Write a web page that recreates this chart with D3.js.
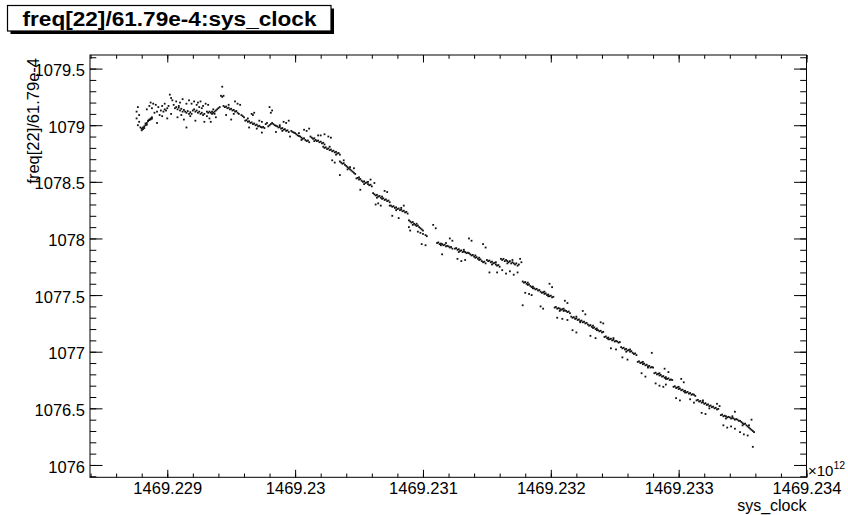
<!DOCTYPE html>
<html>
<head>
<meta charset="utf-8">
<script src="https://cdn.jsdelivr.net/npm/d3@7"></script>
<style>
  html, body { margin: 0; padding: 0; background: #fff; }
  svg { display: block; font-family: "Liberation Sans", Arial, Helvetica, sans-serif; }
</style>
</head>
<body>
<div id="chart"></div>
<script>
// sys_clock (x 1e12) and freq[22]/61.79e-4
const samplesEarly = [
  [1469.22876,1079.12],[1469.22876,1079.06],[1469.22877,1079.00],[1469.22877,1079.16],[1469.22878,1079.03],[1469.22879,1078.98],[1469.22878,1079.09],
  [1469.22880,1078.97],[1469.22880,1078.955],[1469.22881,1078.98],[1469.22881,1078.965],[1469.22882,1078.99],[1469.22882,1078.975],[1469.22883,1079.00],[1469.22883,1079.015],[1469.22884,1079.02],[1469.22884,1079.005],[1469.22885,1079.035],[1469.22885,1079.04],[1469.22886,1079.045],[1469.22886,1079.05],[1469.22887,1079.06],[1469.22887,1079.052],[1469.22888,1079.07],[1469.22888,1079.058],
  [1469.22884,1079.14],[1469.22886,1079.17],[1469.22887,1079.20],[1469.22888,1079.15],[1469.22889,1079.19],[1469.22890,1079.11],[1469.22891,1079.18],[1469.22892,1079.12],[1469.22893,1079.16],[1469.22894,1079.09],[1469.22895,1079.13],[1469.22896,1079.08],[1469.22897,1079.12],[1469.22898,1079.14],[1469.22899,1079.13],[1469.22900,1079.15],[1469.22901,1079.17],[1469.22902,1079.27],[1469.22903,1079.24],[1469.22904,1079.22],[1469.22900,1079.06],[1469.22892,1079.02],[1469.22896,1079.17],[1469.22898,1079.19],
  [1469.22905,1079.18],[1469.22906,1079.15],[1469.22907,1079.16],[1469.22908,1079.14],[1469.22909,1079.155],[1469.22910,1079.13],[1469.22911,1079.145],[1469.22912,1079.12],[1469.22913,1079.135],[1469.22914,1079.12],[1469.22915,1079.11],[1469.22916,1079.125],[1469.22917,1079.10],[1469.22918,1079.115],[1469.22919,1079.10],
  [1469.22907,1079.21],[1469.22910,1079.20],[1469.22912,1079.23],[1469.22915,1079.19],[1469.22917,1079.22],[1469.22919,1079.19],[1469.22921,1079.21],[1469.22923,1079.18],
  [1469.22908,1079.07],[1469.22913,1079.05],[1469.22918,1079.08],[1469.22922,1079.04],[1469.22915,1078.98],
  [1469.22920,1079.13],[1469.22921,1079.14],[1469.22922,1079.12],[1469.22923,1079.13],[1469.22924,1079.11],[1469.22925,1079.12],[1469.22926,1079.10],[1469.22927,1079.11],[1469.22928,1079.09],[1469.22929,1079.10],[1469.22924,1079.20],[1469.22926,1079.21],[1469.22928,1079.17],[1469.22930,1079.19],[1469.22927,1079.15],[1469.22931,1079.08],[1469.22929,1079.03],[1469.22933,1079.06],
  [1469.22931,1079.12],[1469.22932,1079.11],[1469.22933,1079.12],[1469.22934,1079.11],[1469.22935,1079.12],[1469.22936,1079.11],[1469.22937,1079.12],[1469.22938,1079.13],[1469.22939,1079.14],[1469.22940,1079.15],[1469.22941,1079.16],[1469.22935,1079.10],[1469.22937,1079.10],[1469.22934,1079.03],[1469.22938,1079.07],[1469.22932,1079.18],
  [1469.22943,1079.34],[1469.22942,1079.26],[1469.22943,1079.25],[1469.22944,1079.26],
  [1469.22944,1079.17],[1469.22945,1079.16],[1469.22946,1079.165],[1469.22947,1079.15],[1469.22948,1079.155],[1469.22949,1079.14],[1469.22950,1079.145],[1469.22951,1079.13],[1469.22952,1079.135],[1469.22953,1079.12],[1469.22954,1079.125],[1469.22955,1079.11],
  [1469.22953,1079.21],[1469.22955,1079.19],[1469.22957,1079.18],[1469.22956,1079.10],[1469.22958,1079.09],[1469.22960,1079.07],[1469.22959,1079.08],[1469.22950,1079.05],[1469.22946,1079.09],
  [1469.22961,1079.04],[1469.22962,1079.045],[1469.22963,1079.03],[1469.22964,1079.035],[1469.22965,1079.02],[1469.22966,1079.025],[1469.22967,1079.01],[1469.22968,1079.015],[1469.22969,1079.00],[1469.22970,1079.005],[1469.22971,1078.99],[1469.22972,1078.995],[1469.22973,1078.985],[1469.22974,1078.98],[1469.22975,1078.985],[1469.22976,1078.975],
  [1469.22966,1079.10],[1469.22968,1079.11],[1469.22967,1079.09],
  [1469.22972,1079.04],[1469.22974,1079.03],[1469.22977,1079.01],[1469.22978,1079.02],[1469.22980,1079.00],[1469.22981,1079.01],
  [1469.22980,1079.16],[1469.22981,1079.11],[1469.22982,1079.13],
  [1469.22982,1079.02],[1469.22983,1079.01],[1469.22984,1079.00],[1469.22985,1078.995],[1469.22986,1078.99],[1469.22987,1078.98],[1469.22988,1078.985],[1469.22989,1078.97],[1469.22990,1078.975],[1469.22991,1078.96],[1469.22992,1078.965],[1469.22993,1078.95],[1469.22994,1078.955],[1469.22995,1078.94],
  [1469.22991,1079.03],[1469.22993,1079.02],[1469.22995,1079.04],
  [1469.22985,1078.94],[1469.22974,1078.935],[1469.22964,1078.98],[1469.22996,1078.90],
  [1469.22997,1078.95],[1469.22998,1078.94],[1469.22999,1078.935],[1469.23000,1078.93],[1469.23001,1078.92],[1469.23002,1078.91],[1469.23003,1078.905],[1469.23004,1078.90],[1469.23005,1078.89],[1469.23006,1078.88],[1469.23007,1078.885],[1469.23008,1078.87],[1469.23009,1078.86],[1469.23010,1078.865],[1469.23011,1078.85],
  [1469.23007,1078.96],[1469.23009,1078.95],[1469.23011,1078.97],
  [1469.23012,1078.90],[1469.23013,1078.89],[1469.23014,1078.88],[1469.23015,1078.885],[1469.23016,1078.87],[1469.23017,1078.86],[1469.23018,1078.865],[1469.23019,1078.85],[1469.23020,1078.855],[1469.23021,1078.84],[1469.23022,1078.845],[1469.23023,1078.83],
  [1469.22903,1079.10],[1469.22909,1079.17],[1469.22911,1079.09],[1469.22925,1079.16],[1469.22936,1079.14],[1469.22948,1079.18],[1469.22952,1079.10],[1469.22963,1079.06],[1469.22970,1078.97],[1469.22979,1078.99],[1469.22988,1079.00],[1469.22990,1078.95],[1469.23003,1078.93],[1469.23005,1078.87],[1469.23015,1078.86],[1469.23018,1078.91]
];

const samplesMid = [
  [1469.23020,1078.91],[1469.23023,1078.92],[1469.23026,1078.90],[1469.23028,1078.89],
  [1469.23022,1078.81],[1469.23023,1078.80],[1469.23024,1078.805],[1469.23025,1078.79],[1469.23026,1078.795],[1469.23027,1078.78],[1469.23028,1078.785],[1469.23029,1078.77],[1469.23030,1078.775],[1469.23031,1078.76],[1469.23032,1078.765],[1469.23033,1078.75],[1469.23034,1078.755],[1469.23035,1078.74],
  [1469.23029,1078.69],[1469.23031,1078.67],[1469.23035,1078.56],
  [1469.23035,1078.68],[1469.23036,1078.67],[1469.23037,1078.66],[1469.23038,1078.665],[1469.23039,1078.65],[1469.23040,1078.64],[1469.23041,1078.63],[1469.23042,1078.62],[1469.23043,1078.61],[1469.23044,1078.60],[1469.23045,1078.59],[1469.23046,1078.58],[1469.23047,1078.57],
  [1469.23043,1078.63],[1469.23046,1078.62],
  [1469.23048,1078.53],[1469.23049,1078.535],[1469.23050,1078.52],[1469.23051,1078.525],[1469.23052,1078.51],[1469.23053,1078.50],[1469.23054,1078.505],[1469.23055,1078.49],[1469.23056,1078.495],[1469.23057,1078.48],[1469.23058,1078.47],[1469.23059,1078.475],[1469.23060,1078.46],
  [1469.23051,1078.43],[1469.23057,1078.50],[1469.23059,1078.52],[1469.23062,1078.49],
  [1469.23061,1078.40],[1469.23062,1078.39],[1469.23063,1078.38],[1469.23064,1078.385],[1469.23065,1078.37],[1469.23066,1078.375],[1469.23067,1078.36],[1469.23068,1078.35],[1469.23069,1078.355],[1469.23070,1078.34],[1469.23071,1078.345],[1469.23072,1078.33],[1469.23073,1078.335],[1469.23074,1078.32],
  [1469.23063,1078.30],[1469.23067,1078.29],[1469.23065,1078.31],[1469.23070,1078.42],[1469.23072,1078.41],
  [1469.23074,1078.29],[1469.23075,1078.29],[1469.23076,1078.28],[1469.23077,1078.285],[1469.23078,1078.27],[1469.23079,1078.275],[1469.23080,1078.26],[1469.23081,1078.265],[1469.23082,1078.25],[1469.23083,1078.255],[1469.23084,1078.24],[1469.23085,1078.245],[1469.23086,1078.23],[1469.23087,1078.235],[1469.23088,1078.22],
  [1469.23076,1078.20],[1469.23081,1078.18],[1469.23085,1078.29],
  [1469.23089,1078.16],[1469.23090,1078.15],[1469.23091,1078.14],[1469.23092,1078.145],[1469.23093,1078.13],[1469.23094,1078.12],[1469.23095,1078.11],[1469.23096,1078.115],[1469.23097,1078.10],[1469.23098,1078.09],[1469.23099,1078.08],[1469.23100,1078.07],
  [1469.23089,1078.10],[1469.23090,1078.07],[1469.23096,1078.06],[1469.23098,1078.05],[1469.23100,1078.04],[1469.23102,1078.03],[1469.23103,1078.02],[1469.23099,1077.95],[1469.23102,1077.94],[1469.23108,1078.12],[1469.23110,1078.09],
  [1469.23111,1077.96],[1469.23112,1077.965],[1469.23113,1077.95],[1469.23114,1077.955],[1469.23115,1077.95],[1469.23116,1077.94],[1469.23117,1077.945],[1469.23118,1077.93],[1469.23119,1077.935],[1469.23120,1077.93],[1469.23121,1077.92],[1469.23122,1077.925],[1469.23123,1077.91],
  [1469.23121,1078.00],[1469.23123,1077.98],[1469.23115,1077.86],
  [1469.23125,1077.91],[1469.23126,1077.915],[1469.23127,1077.90],[1469.23128,1077.905],[1469.23129,1077.89],[1469.23130,1077.895],[1469.23131,1077.88],[1469.23132,1077.885],[1469.23133,1077.88],[1469.23134,1077.87],[1469.23135,1077.875],[1469.23136,1077.87],
  [1469.23127,1077.82],[1469.23130,1077.80],[1469.23133,1077.81],[1469.23136,1078.00],[1469.23138,1077.98],
  [1469.23137,1077.86],[1469.23138,1077.85],[1469.23139,1077.855],[1469.23140,1077.84],[1469.23141,1077.83],[1469.23142,1077.835],[1469.23143,1077.82],[1469.23144,1077.81],[1469.23145,1077.815],[1469.23146,1077.80],[1469.23147,1077.79],[1469.23148,1077.795],[1469.23149,1077.78],
  [1469.23147,1077.95],[1469.23149,1077.92],
  [1469.23150,1077.81],[1469.23151,1077.80],[1469.23152,1077.805],[1469.23153,1077.79],[1469.23154,1077.795],[1469.23155,1077.78],[1469.23156,1077.785],[1469.23157,1077.77],[1469.23158,1077.76],[1469.23159,1077.765],[1469.23160,1077.75],
  [1469.23152,1077.70],
  [1469.23027,1078.81],[1469.23032,1078.74],[1469.23038,1078.69],[1469.23041,1078.61],[1469.23050,1078.54],[1469.23054,1078.48],[1469.23064,1078.36],[1469.23068,1078.37],[1469.23079,1078.25],[1469.23083,1078.27],[1469.23092,1078.12],[1469.23095,1078.13],[1469.23114,1077.94],[1469.23118,1077.96],[1469.23128,1077.88],[1469.23132,1077.90],[1469.23141,1077.85],[1469.23144,1077.83],[1469.23154,1077.77],[1469.23157,1077.79]
];

const samplesLate = [
  [1469.23161,1077.82],[1469.23162,1077.81],[1469.23163,1077.82],[1469.23164,1077.80],[1469.23165,1077.81],[1469.23166,1077.80],[1469.23167,1077.79],[1469.23168,1077.80],[1469.23169,1077.78],[1469.23170,1077.79],[1469.23171,1077.78],[1469.23172,1077.77],[1469.23173,1077.78],[1469.23174,1077.76],[1469.23175,1077.77],
  [1469.23158,1077.70],[1469.23162,1077.72],[1469.23165,1077.69],[1469.23168,1077.71],[1469.23171,1077.68],[1469.23174,1077.70],[1469.23176,1077.82],[1469.23177,1077.79],
  [1469.23178,1077.62],[1469.23179,1077.61],[1469.23180,1077.615],[1469.23181,1077.60],[1469.23182,1077.59],[1469.23183,1077.595],[1469.23184,1077.58],[1469.23185,1077.57],[1469.23186,1077.575],[1469.23187,1077.56],[1469.23188,1077.55],[1469.23189,1077.555],
  [1469.23180,1077.52],[1469.23183,1077.51],[1469.23185,1077.50],[1469.23178,1077.41],
  [1469.23190,1077.54],[1469.23191,1077.545],[1469.23192,1077.53],[1469.23193,1077.52],[1469.23194,1077.525],[1469.23195,1077.51],[1469.23196,1077.515],[1469.23197,1077.50],[1469.23198,1077.505],[1469.23199,1077.49],[1469.23200,1077.495],[1469.23201,1077.48],[1469.23202,1077.485],
  [1469.23199,1077.60],[1469.23201,1077.57],[1469.23192,1077.40],[1469.23194,1077.38],
  [1469.23203,1077.39],[1469.23204,1077.395],[1469.23205,1077.38],[1469.23206,1077.385],[1469.23207,1077.38],[1469.23208,1077.37],[1469.23209,1077.375],[1469.23210,1077.36],[1469.23211,1077.365],[1469.23212,1077.36],[1469.23213,1077.35],[1469.23214,1077.355],[1469.23215,1077.34],
  [1469.23211,1077.45],[1469.23213,1077.43],[1469.23205,1077.30],[1469.23209,1077.29],[1469.23213,1077.28],
  [1469.23216,1077.31],[1469.23217,1077.30],[1469.23218,1077.305],[1469.23219,1077.29],[1469.23220,1077.295],[1469.23221,1077.28],[1469.23222,1077.285],[1469.23223,1077.27],[1469.23224,1077.275],[1469.23225,1077.26],[1469.23226,1077.265],[1469.23227,1077.25],[1469.23228,1077.255],
  [1469.23217,1077.19],[1469.23220,1077.17],[1469.23225,1077.36],[1469.23227,1077.33],
  [1469.23229,1077.24],[1469.23230,1077.23],[1469.23231,1077.235],[1469.23232,1077.22],[1469.23233,1077.21],[1469.23234,1077.215],[1469.23235,1077.20],[1469.23236,1077.205],[1469.23237,1077.19],[1469.23238,1077.18],[1469.23239,1077.185],[1469.23240,1077.17],[1469.23241,1077.175],
  [1469.23239,1077.26],[1469.23241,1077.25],[1469.23231,1077.14],[1469.23235,1077.12],
  [1469.23242,1077.13],[1469.23243,1077.135],[1469.23244,1077.12],[1469.23245,1077.125],[1469.23246,1077.11],[1469.23247,1077.115],[1469.23248,1077.10],[1469.23249,1077.105],[1469.23250,1077.09],[1469.23251,1077.095],[1469.23252,1077.09],[1469.23253,1077.08],[1469.23254,1077.085],
  [1469.23247,1077.03],[1469.23251,1077.02],
  [1469.23255,1077.04],[1469.23256,1077.03],[1469.23257,1077.035],[1469.23258,1077.02],[1469.23259,1077.025],[1469.23260,1077.01],[1469.23261,1077.015],[1469.23262,1077.00],[1469.23263,1077.005],[1469.23264,1076.99],[1469.23265,1076.98],[1469.23266,1076.985],[1469.23267,1076.97],
  [1469.23256,1076.95],[1469.23260,1076.93],
  [1469.23268,1076.91],[1469.23269,1076.915],[1469.23270,1076.90],[1469.23271,1076.905],[1469.23272,1076.89],[1469.23273,1076.895],[1469.23274,1076.88],[1469.23275,1076.885],[1469.23276,1076.87],[1469.23277,1076.875],[1469.23278,1076.86],[1469.23279,1076.865],[1469.23280,1076.86],
  [1469.23279,1076.99],[1469.23271,1076.81],[1469.23274,1076.78],
  [1469.23281,1076.81],[1469.23282,1076.815],[1469.23283,1076.80],[1469.23284,1076.805],[1469.23285,1076.79],[1469.23286,1076.795],[1469.23287,1076.78],[1469.23288,1076.785],[1469.23289,1076.77],[1469.23290,1076.775],[1469.23291,1076.76],[1469.23292,1076.765],[1469.23293,1076.75],[1469.23294,1076.755],[1469.23295,1076.75],
  [1469.23282,1076.72],[1469.23285,1076.70],[1469.23288,1076.69],[1469.23290,1076.71],[1469.23289,1076.85],[1469.23292,1076.82],
  [1469.23296,1076.69],[1469.23297,1076.695],[1469.23298,1076.68],[1469.23299,1076.685],[1469.23300,1076.67],[1469.23301,1076.675],[1469.23302,1076.66],[1469.23303,1076.665],[1469.23304,1076.65],[1469.23305,1076.655],[1469.23306,1076.64],[1469.23307,1076.645],[1469.23308,1076.63],[1469.23309,1076.635],[1469.23310,1076.62],[1469.23311,1076.625],[1469.23312,1076.62],[1469.23313,1076.61],
  [1469.23302,1076.76],[1469.23304,1076.73],[1469.23298,1076.59],[1469.23301,1076.57],
  [1469.23314,1076.57],[1469.23315,1076.575],[1469.23316,1076.56],[1469.23317,1076.565],[1469.23318,1076.55],[1469.23319,1076.555],[1469.23320,1076.54],[1469.23321,1076.545],[1469.23322,1076.53],[1469.23323,1076.535],[1469.23324,1076.52],[1469.23325,1076.525],[1469.23326,1076.51],[1469.23327,1076.515],[1469.23328,1076.50],[1469.23329,1076.505],[1469.23330,1076.49],[1469.23331,1076.495],
  [1469.23309,1076.58],[1469.23312,1076.55],[1469.23318,1076.46],[1469.23321,1076.45],[1469.23330,1076.54],[1469.23332,1076.52],
  [1469.23333,1076.44],[1469.23334,1076.445],[1469.23335,1076.43],[1469.23336,1076.435],[1469.23337,1076.43],[1469.23338,1076.42],[1469.23339,1076.425],[1469.23340,1076.42],[1469.23341,1076.41],[1469.23342,1076.415],[1469.23343,1076.41],[1469.23344,1076.40],[1469.23345,1076.405],[1469.23346,1076.40],[1469.23347,1076.39],
  [1469.23344,1076.47],[1469.23335,1076.35],[1469.23338,1076.33],[1469.23341,1076.34],[1469.23344,1076.32],
  [1469.23348,1076.39],[1469.23349,1076.38],[1469.23350,1076.37],[1469.23351,1076.36],[1469.23352,1076.365],[1469.23353,1076.35],[1469.23354,1076.34],[1469.23355,1076.33],[1469.23356,1076.32],[1469.23357,1076.31],[1469.23358,1076.30],[1469.23359,1076.29],
  [1469.23348,1076.29],[1469.23351,1076.27],[1469.23354,1076.26],[1469.23358,1076.16],[1469.23357,1076.40],
  [1469.23166,1077.78],[1469.23170,1077.81],[1469.23182,1077.61],[1469.23186,1077.56],[1469.23195,1077.53],[1469.23198,1077.49],[1469.23207,1077.36],[1469.23210,1077.38],[1469.23220,1077.31],[1469.23223,1077.26],[1469.23233,1077.23],[1469.23236,1077.19],[1469.23245,1077.11],[1469.23249,1077.12],[1469.23259,1077.00],[1469.23262,1077.02],[1469.23272,1076.91],[1469.23276,1076.86],[1469.23285,1076.81],[1469.23290,1076.76],[1469.23300,1076.69],[1469.23305,1076.64],[1469.23319,1076.57],[1469.23324,1076.50],[1469.23337,1076.41],[1469.23342,1076.43],[1469.23350,1076.35],[1469.23355,1076.35]
];

const xTickValues = [1469.229, 1469.230, 1469.231, 1469.232, 1469.233, 1469.234];
const xTickLabels = ['1469.229', '1469.23', '1469.231', '1469.232', '1469.233', '1469.234'];
const yTickValues = [1076, 1076.5, 1077, 1077.5, 1078, 1078.5, 1079, 1079.5];
const yTickLabels = ['1076', '1076.5', '1077', '1077.5', '1078', '1078.5', '1079', '1079.5'];

const chartTitle = 'freq[22]/61.79e-4:sys_clock';
const xTitle = 'sys_clock';
const yTitle = 'freq[22]/61.79e-4';

const width = 848, height = 515;
const frame = {left: 90, right: 806.5, top: 55, bottom: 477.3};
const labelSize = 16.5;

const svg = d3.select('#chart').append('svg')
    .attr('width', width)
    .attr('height', height);

svg.append('rect').attr('width', width).attr('height', height).attr('fill', '#fff');

const x = d3.scaleLinear().domain([1469.2283956, 1469.234]).range([frame.left, frame.right]);
const y = d3.scaleLinear().domain([1075.891, 1079.62]).range([frame.bottom, frame.top]);

// minor ticks: 5 divisions per major
const xMinor = d3.range(0, 29).map(i => 1469.2284 + i * 0.0002).filter(v => v < 1469.23401);
const yMinor = d3.range(0, 38).map(i => 1075.9 + i * 0.1).filter(v => v < 1079.61);

function styleAxis(g) {
    g.select('.domain').remove();
    g.selectAll('line').attr('stroke', '#000').attr('stroke-width', 1);
    g.attr('font-family', null).attr('font-size', labelSize);
    g.selectAll('text').attr('fill', '#000');
}

// bottom
svg.append('g').attr('transform', `translate(0,${frame.bottom})`)
    .call(d3.axisBottom(x).tickValues(xMinor).tickSize(-3.8).tickFormat(''))
    .call(styleAxis);
svg.append('g').attr('transform', `translate(0,${frame.bottom})`)
    .call(d3.axisBottom(x).tickValues(xTickValues).tickSize(-7.5).tickPadding(5)
        .tickFormat((d, i) => xTickLabels[i]))
    .call(styleAxis);
// top
svg.append('g').attr('transform', `translate(0,${frame.top})`)
    .call(d3.axisTop(x).tickValues(xMinor).tickSize(-3.8).tickFormat(''))
    .call(styleAxis);
svg.append('g').attr('transform', `translate(0,${frame.top})`)
    .call(d3.axisTop(x).tickValues(xTickValues).tickSize(-7.5).tickFormat(''))
    .call(styleAxis);
// left
svg.append('g').attr('transform', `translate(${frame.left},0)`)
    .call(d3.axisLeft(y).tickValues(yMinor).tickSize(-6.3).tickFormat(''))
    .call(styleAxis);
const yAxisG = svg.append('g').attr('transform', `translate(${frame.left},0)`)
    .call(d3.axisLeft(y).tickValues(yTickValues).tickSize(-12.5).tickPadding(5)
        .tickFormat((d, i) => yTickLabels[i]))
    .call(styleAxis);
yAxisG.selectAll('text').attr('dy', '0.43em');
// right
svg.append('g').attr('transform', `translate(${frame.right},0)`)
    .call(d3.axisRight(y).tickValues(yMinor).tickSize(-6.3).tickFormat(''))
    .call(styleAxis);
svg.append('g').attr('transform', `translate(${frame.right},0)`)
    .call(d3.axisRight(y).tickValues(yTickValues).tickSize(-12.5).tickFormat(''))
    .call(styleAxis);

// frame
svg.append('rect')
    .attr('x', frame.left).attr('y', frame.top)
    .attr('width', frame.right - frame.left).attr('height', frame.bottom - frame.top)
    .attr('fill', 'none').attr('stroke', '#000').attr('stroke-width', 1);

// points
const allSamples = samplesEarly.concat(samplesMid, samplesLate);
svg.append('g').selectAll('rect')
    .data(allSamples)
    .join('rect')
    .attr('x', d => x(d[0]) - 0.9)
    .attr('y', d => y(d[1]) - 0.9)
    .attr('width', 1.8)
    .attr('height', 1.8)
    .attr('fill', '#111');

// x10^12 exponent
const expo = svg.append('text')
    .attr('x', frame.right + 1.5).attr('y', 476)
    .attr('font-size', 15).attr('fill', '#000');
expo.append('tspan').text('\u00d710');
expo.append('tspan').attr('dy', -7).attr('font-size', 10.5).text('12');

// axis titles
svg.append('text')
    .attr('x', frame.right).attr('y', 511)
    .attr('text-anchor', 'end')
    .attr('font-size', 16)
    .text(xTitle);

svg.append('text')
    .attr('transform', `translate(39,${frame.top + 3}) rotate(-90)`)
    .attr('text-anchor', 'end')
    .attr('font-size', labelSize)
    .text(yTitle);

// title box with shadow
svg.append('rect').attr('x', 10.5).attr('y', 8.5).attr('width', 323.5).attr('height', 25.5).attr('fill', '#000');
svg.append('rect').attr('x', 7.5).attr('y', 5.5).attr('width', 323.5).attr('height', 25.5)
    .attr('fill', '#fff').attr('stroke', '#000').attr('stroke-width', 1.2);
svg.append('text')
    .attr('x', 169.5).attr('y', 26)
    .attr('text-anchor', 'middle')
    .attr('font-size', 20).attr('font-weight', 'bold')
    .attr('textLength', 294).attr('lengthAdjust', 'spacingAndGlyphs')
    .text(chartTitle);
</script>
</body>
</html>
